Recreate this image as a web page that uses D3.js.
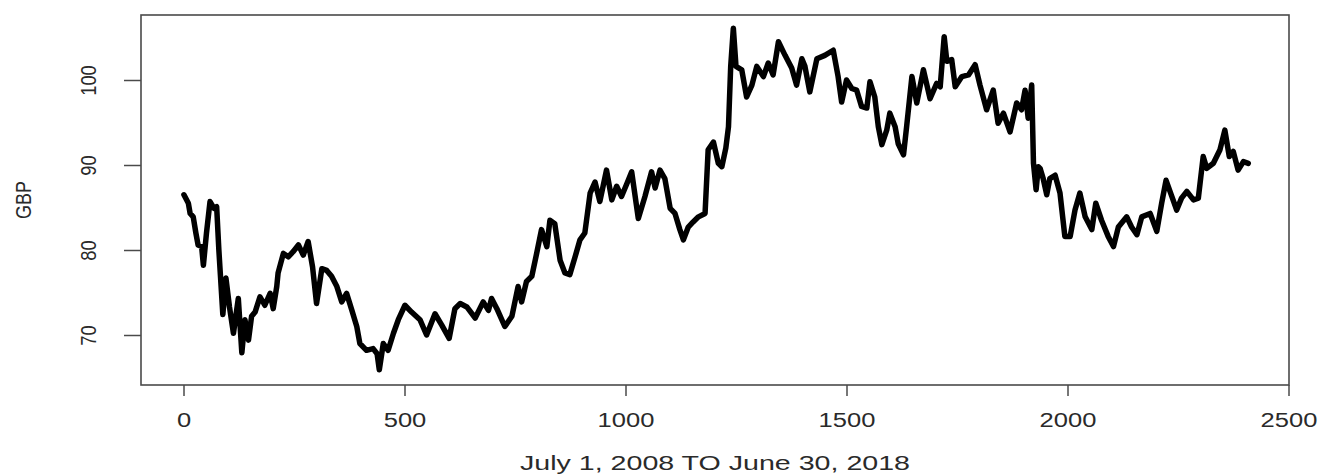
<!DOCTYPE html>
<html>
<head>
<meta charset="utf-8">
<script src="https://cdn.jsdelivr.net/npm/d3@7"></script>
<style>
  html, body { margin: 0; padding: 0; background: #fff; }
  svg { display: block; }
  text { font-family: "Liberation Sans", Arial, Helvetica, sans-serif; }
</style>
</head>
<body>
<svg id="chart" width="1318" height="476"></svg>
<script>
// Trading-day index (0 = July 1, 2008) and GBP closing level
const dayIndex = [
  1, 11, 15, 22, 28, 33, 41, 45, 52, 60, 69, 75, 80, 89, 96, 104, 113, 124, 132, 139,
  147, 154, 162, 173, 184, 196, 203, 211, 214, 226, 237, 248, 260, 271, 282, 292, 301, 313, 324, 335,
  347, 358, 369, 381, 392, 399, 414, 429, 438, 443, 452, 463, 475, 486, 501, 516, 535, 550, 569, 584,
  601, 614, 626, 641, 660, 678, 690, 697, 709, 727, 743, 757, 765, 776, 788, 799, 810, 822, 829, 840,
  852, 863, 874, 886, 897, 908, 920, 931, 942, 957, 969, 980, 991, 1003, 1014, 1029, 1044, 1059, 1067, 1078,
  1089, 1101, 1112, 1123, 1131, 1142, 1153, 1165, 1180, 1187, 1199, 1210, 1218, 1227, 1233, 1238, 1244, 1250, 1263, 1274,
  1286, 1297, 1312, 1323, 1334, 1346, 1361, 1376, 1387, 1399, 1406, 1417, 1433, 1451, 1470, 1481, 1489, 1500, 1512, 1523,
  1534, 1546, 1553, 1564, 1572, 1580, 1591, 1598, 1610, 1617, 1629, 1636, 1648, 1659, 1674, 1689, 1704, 1712, 1721, 1727,
  1738, 1746, 1761, 1776, 1791, 1802, 1817, 1832, 1843, 1855, 1870, 1885, 1896, 1904, 1911, 1919, 1923, 1929, 1934, 1938,
  1945, 1953, 1960, 1972, 1983, 1994, 2006, 2017, 2028, 2040, 2055, 2064, 2077, 2092, 2104, 2115, 2134, 2145, 2157, 2168,
  2187, 2202, 2213, 2223, 2236, 2247, 2258, 2270, 2285, 2296, 2307, 2315, 2330, 2345, 2356, 2366, 2375, 2386, 2398, 2409
];
const gbpValue = [
  86.5, 85.5, 84.3, 83.9, 82.0, 80.6, 80.4, 78.2, 82.0, 85.7, 84.9, 85.1, 80.0, 72.4, 76.7, 73.3, 70.2, 74.3, 67.9, 71.8,
  69.4, 72.2, 72.7, 74.5, 73.5, 74.9, 73.1, 75.7, 77.3, 79.6, 79.2, 79.8, 80.6, 79.4, 81.0, 78.0, 73.7, 77.8, 77.6, 76.9,
  75.7, 73.9, 74.9, 72.9, 71.0, 69.0, 68.2, 68.4, 67.8, 65.9, 69.0, 68.2, 70.2, 71.8, 73.5, 72.7, 71.8, 70.0, 72.5, 71.2,
  69.6, 73.1, 73.7, 73.3, 72.0, 73.9, 72.9, 74.3, 73.1, 71.0, 72.2, 75.7, 73.9, 76.3, 76.9, 79.6, 82.4, 80.4, 83.5, 83.1,
  78.8, 77.3, 77.1, 79.2, 81.2, 82.0, 86.7, 88.0, 85.7, 89.4, 85.9, 87.5, 86.3, 87.8, 89.2, 83.7, 86.3, 89.2, 87.3, 89.4,
  88.4, 84.9, 84.3, 82.4, 81.2, 82.7, 83.3, 83.9, 84.3, 91.8, 92.7, 90.2, 89.8, 92.0, 94.5, 101.6, 106.1, 101.6, 101.2, 98.0,
  99.4, 101.6, 100.4, 102.0, 100.6, 104.5, 102.9, 101.4, 99.4, 102.5, 101.6, 98.6, 102.5, 102.9, 103.5, 100.4, 97.4, 100.0, 99.0, 98.8,
  96.9, 96.7, 99.8, 98.0, 94.5, 92.4, 94.1, 96.1, 94.5, 92.5, 91.2, 94.5, 100.4, 97.3, 101.2, 97.8, 99.6, 99.2, 105.1, 102.2,
  102.4, 99.2, 100.4, 100.6, 101.8, 99.4, 96.5, 98.8, 94.9, 96.1, 93.9, 97.3, 96.5, 98.8, 95.5, 99.4, 90.2, 87.1, 89.8, 89.6,
  88.4, 86.5, 88.4, 88.8, 86.7, 81.6, 81.6, 84.7, 86.7, 83.9, 82.4, 85.5, 83.5, 81.6, 80.4, 82.7, 83.9, 82.7, 81.8, 83.9,
  84.3, 82.2, 85.5, 88.2, 86.3, 84.7, 86.1, 86.9, 85.9, 86.1, 91.0, 89.6, 90.2, 91.8, 94.1, 91.0, 91.6, 89.4, 90.4, 90.2
];
const xTicks = [0, 500, 1000, 1500, 2000, 2500];
const yTicks = [70, 80, 90, 100];
const xTitle = "July 1, 2008 TO June 30, 2018";
const yTitle = "GBP";

// Plot frame
const frame = { left: 141, right: 1289, top: 15, bottom: 385 };
const inkColor = "#2a2a2a";
const axisColor = "#4a4a4a";

const svg = d3.select("#chart");

const x = d3.scaleLinear().domain([0, 2500]).range([183.5, 1288.5]);
const y = d3.scaleLinear().domain([70, 100]).range([335, 80]);

const series = dayIndex.map((d, i) => ({ day: d, value: gbpValue[i] }));

// Price line
svg.append("path")
  .datum(series)
  .attr("fill", "none")
  .attr("stroke", "#000")
  .attr("stroke-width", 5.5)
  .attr("stroke-linejoin", "round")
  .attr("stroke-linecap", "round")
  .attr("d", d3.line().x(d => x(d.day)).y(d => y(d.value)));

// Box around the plotting region
svg.append("rect")
  .attr("x", frame.left)
  .attr("y", frame.top)
  .attr("width", frame.right - frame.left)
  .attr("height", frame.bottom - frame.top)
  .attr("fill", "none")
  .attr("stroke", axisColor)
  .attr("stroke-width", 1.6);

// Bottom axis
const gx = svg.append("g")
  .attr("transform", `translate(0,${frame.bottom})`)
  .call(d3.axisBottom(x).tickValues(xTicks).tickSize(11).tickFormat(d3.format("d")));
gx.select(".domain").remove();
gx.selectAll(".tick line").attr("stroke", axisColor).attr("stroke-width", 1.5);
gx.selectAll(".tick text")
  .attr("y", 42)
  .attr("dy", null)
  .attr("font-size", 20)
  .attr("fill", inkColor)
  .attr("textLength", d => String(d).length * 14.2)
  .attr("lengthAdjust", "spacingAndGlyphs");

// Left axis with rotated labels
const gy = svg.append("g")
  .attr("transform", `translate(${frame.left},0)`)
  .call(d3.axisLeft(y).tickValues(yTicks).tickSize(17).tickFormat(d3.format("d")));
gy.select(".domain").remove();
gy.selectAll(".tick line").attr("stroke", axisColor).attr("stroke-width", 1.5);
gy.selectAll(".tick text")
  .attr("x", 0)
  .attr("y", 0)
  .attr("dy", null)
  .attr("text-anchor", "middle")
  .attr("transform", "translate(-45,0) scale(1.2,1) rotate(-90)")
  .attr("font-size", 18)
  .attr("fill", inkColor)
  .attr("textLength", d => String(d).length * 10.2)
  .attr("lengthAdjust", "spacingAndGlyphs");

// Axis titles
svg.append("text")
  .attr("x", (frame.left + frame.right) / 2)
  .attr("y", 470)
  .attr("text-anchor", "middle")
  .attr("font-size", 20)
  .attr("fill", inkColor)
  .attr("textLength", 390)
  .attr("lengthAdjust", "spacingAndGlyphs")
  .text(xTitle);

svg.append("text")
  .attr("text-anchor", "middle")
  .attr("transform", `translate(31,${(frame.top + frame.bottom) / 2}) scale(1.25,1) rotate(-90)`)
  .attr("font-size", 18)
  .attr("fill", inkColor)
  .attr("textLength", 38)
  .attr("lengthAdjust", "spacingAndGlyphs")
  .text(yTitle);
</script>
</body>
</html>
